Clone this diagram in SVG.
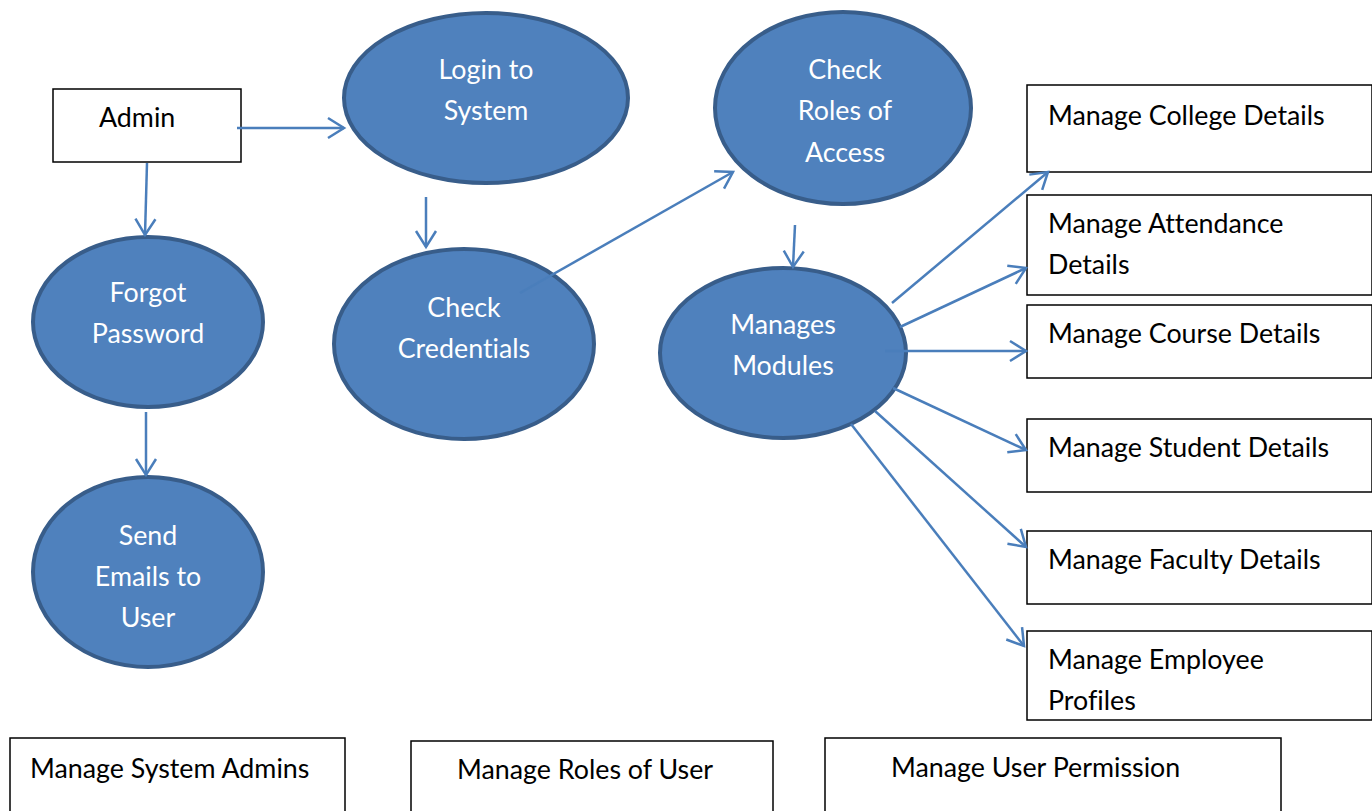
<svg xmlns="http://www.w3.org/2000/svg" width="1372" height="811" viewBox="0 0 1372 811">
<defs>
<marker id="arr" markerUnits="userSpaceOnUse" markerWidth="24" markerHeight="24" viewBox="0 0 24 24" refX="20" refY="12" orient="auto">
<path d="M4,2 L20,12 L4,22" fill="none" stroke="#4A7EBB" stroke-width="2.5"/>
</marker>
<style>
.box{fill:#fff;stroke:#000;stroke-width:1.5}
.ell{fill:#4F81BD;stroke:#385D8A;stroke-width:4}
.t{font-family:Lato,"Liberation Sans",sans-serif;font-size:26.8px;fill:#000;font-variant-ligatures:none}
.w{font-family:Lato,"Liberation Sans",sans-serif;font-size:26.8px;fill:#fff;text-anchor:middle;font-variant-ligatures:none}
.c{fill:none;stroke:#4A7EBB;stroke-width:2.5;marker-end:url(#arr)}
</style>
</defs>
<rect width="1372" height="811" fill="#fff"/>
<g id="admin"><rect class="box" x="53" y="89" width="188" height="73"/><text class="t" x="99" y="127">Admin</text></g>
<g id="login"><ellipse class="ell" cx="486" cy="98" rx="142" ry="85"/><text class="w" x="486" y="79">Login to</text><text class="w" x="486" y="120">System</text></g>
<g id="roles"><ellipse class="ell" cx="843" cy="108" rx="128" ry="96"/><text class="w" x="845" y="79">Check</text><text class="w" x="845" y="120">Roles of</text><text class="w" x="845" y="162">Access</text></g>
<g id="forgot"><ellipse class="ell" cx="148" cy="322" rx="115" ry="85"/><text class="w" x="148" y="302">Forgot</text><text class="w" x="148" y="343">Password</text></g>
<g id="cred"><ellipse class="ell" cx="464" cy="344" rx="130" ry="95"/><text class="w" x="464" y="317">Check</text><text class="w" x="464" y="358">Credentials</text></g>
<g id="modules"><ellipse class="ell" cx="783" cy="353" rx="123" ry="85"/><text class="w" x="783" y="334">Manages</text><text class="w" x="783" y="375">Modules</text></g>
<g id="send"><ellipse class="ell" cx="148" cy="572" rx="115" ry="95"/><text class="w" x="148" y="545">Send</text><text class="w" x="148" y="586">Emails to</text><text class="w" x="148" y="627">User</text></g>
<g id="college"><rect class="box" x="1027" y="85" width="345" height="87"/><text class="t" x="1048" y="125">Manage College Details</text></g>
<g id="attendance"><rect class="box" x="1027" y="195" width="345" height="100"/><text class="t" x="1048" y="233">Manage Attendance</text><text class="t" x="1048" y="274">Details</text></g>
<g id="course"><rect class="box" x="1027" y="305" width="345" height="73"/><text class="t" x="1048" y="343">Manage Course Details</text></g>
<g id="student"><rect class="box" x="1027" y="419" width="345" height="73"/><text class="t" x="1048" y="457">Manage Student Details</text></g>
<g id="faculty"><rect class="box" x="1027" y="531" width="345" height="73"/><text class="t" x="1048" y="569">Manage Faculty Details</text></g>
<g id="employee"><rect class="box" x="1027" y="631" width="345" height="89"/><text class="t" x="1048" y="669">Manage Employee</text><text class="t" x="1048" y="710">Profiles</text></g>
<g id="sysadmins"><rect class="box" x="10" y="738" width="335" height="80"/><text class="t" x="30" y="778">Manage System Admins</text></g>
<g id="roleuser"><rect class="box" x="411" y="741" width="362" height="80"/><text class="t" x="457" y="779">Manage Roles of User</text></g>
<g id="perm"><rect class="box" x="825" y="738" width="456" height="80"/><text class="t" x="891" y="777">Manage User Permission</text></g>
<g id="connectors">
<line class="c" x1="237" y1="128" x2="344" y2="128"/>
<line class="c" x1="147" y1="163" x2="145" y2="235"/>
<line class="c" x1="426" y1="197" x2="426" y2="247"/>
<line class="c" x1="520" y1="293" x2="733" y2="172"/>
<line class="c" x1="795" y1="225" x2="793" y2="267"/>
<line class="c" x1="892" y1="303" x2="1048" y2="172"/>
<line class="c" x1="900" y1="327" x2="1026" y2="268"/>
<line class="c" x1="885" y1="351" x2="1026" y2="351"/>
<line class="c" x1="893" y1="388" x2="1026" y2="450"/>
<line class="c" x1="875" y1="411" x2="1026" y2="547"/>
<line class="c" x1="851" y1="424" x2="1024" y2="646"/>
<line class="c" x1="146" y1="412" x2="146" y2="475"/>
</g>
</svg>
